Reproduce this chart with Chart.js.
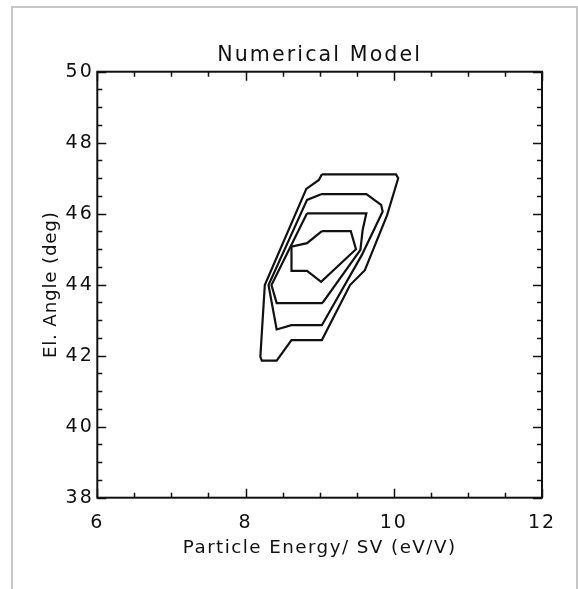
<!DOCTYPE html>
<html>
<head>
<meta charset="utf-8">
<title>Numerical Model</title>
<script src="https://cdn.jsdelivr.net/npm/chart.js@4.4.1/dist/chart.umd.min.js"></script>
<style>
  html, body { margin: 0; padding: 0; background: #fff; }
  #wrap { position: relative; width: 578px; height: 589px; overflow: hidden; }
  #frame { position: absolute; left: 11px; top: 6px; width: 563px; height: 620px;
           border: 2px solid #c6c6c6; border-bottom: none; }
  #c { position: absolute; left: 0; top: 0; }
</style>
</head>
<body>
<div id="wrap">
  <div id="frame"></div>
  <canvas id="c" width="578" height="589"></canvas>
</div>
<script>
// Axis ranges and labelled ticks
const energyTicks = [6, 8, 10, 12];
const angleTicks = [38, 40, 42, 44, 46, 48, 50];
const minorStep = 0.5;

// Contour levels, outermost first (energy in eV/V, elevation angle in deg)
const level1Energy = [9.03, 10.03, 10.06, 9.91, 9.61, 9.41, 9.03, 8.62, 8.42, 8.22, 8.20, 8.26, 8.82, 8.99, 9.03];
const level1Angle  = [47.11, 47.11, 47.00, 45.96, 44.41, 43.99, 42.44, 42.44, 41.86, 41.86, 41.97, 43.99, 46.70, 46.95, 47.11];

const level2Energy = [9.02, 9.63, 9.83, 9.85, 9.57, 9.03, 8.62, 8.42, 8.31, 8.83, 9.02];
const level2Angle  = [46.55, 46.55, 46.25, 46.06, 44.84, 42.86, 42.86, 42.74, 43.99, 46.39, 46.55];

const level3Energy = [8.83, 9.63, 9.58, 9.55, 9.05, 9.03, 8.42, 8.35, 8.83];
const level3Angle  = [46.01, 46.01, 45.54, 44.98, 43.52, 43.48, 43.48, 43.99, 46.01];

const level4Energy = [9.03, 9.42, 9.49, 9.02, 8.83, 8.62, 8.62, 8.83, 9.03];
const level4Angle  = [45.51, 45.51, 45.00, 44.08, 44.39, 44.39, 45.07, 45.17, 45.51];

const levels = [
  [level1Energy, level1Angle],
  [level2Energy, level2Angle],
  [level3Energy, level3Angle],
  [level4Energy, level4Angle]
];

const FONT = '"DejaVu Sans", "Liberation Sans", sans-serif';
const INK = '#111';

function toPoints(xs, ys) {
  return xs.map((v, i) => ({ x: v, y: ys[i] }));
}

// Give a text-drawing method its own glyph spacing
function withSpacing(obj, method, px) {
  if (!obj || obj['_spaced_' + method]) return;
  const orig = obj[method];
  obj[method] = function (...args) {
    const ctx = this.ctx;
    ctx.letterSpacing = px + 'px';
    const r = orig.apply(this, args);
    ctx.letterSpacing = '0px';
    return r;
  };
  obj['_spaced_' + method] = true;
}

const spacing = {
  id: 'spacing',
  afterLayout(chart) {
    withSpacing(chart.titleBlock, 'draw', 2.1);
    withSpacing(chart.scales.x, 'drawLabels', 2);
    withSpacing(chart.scales.y, 'drawLabels', 2);
    withSpacing(chart.scales.x, 'drawTitle', 1.45);
    withSpacing(chart.scales.y, 'drawTitle', 0.8);
  }
};

// Box frame with inward major/minor ticks on all four sides
const boxTicks = {
  id: 'boxTicks',
  afterDatasetsDraw(chart) {
    const { ctx, chartArea: a, scales: { x, y } } = chart;
    const majorLen = 9, minorLen = 5;
    const isMajor = (scale, v) => scale.ticks.some(t => Math.abs(t.value - v) < 1e-6);
    ctx.save();
    ctx.strokeStyle = INK;
    ctx.lineWidth = 1.5;
    ctx.beginPath();
    for (let v = x.min; v <= x.max + 1e-9; v += minorStep) {
      const len = isMajor(x, v) ? majorLen : minorLen;
      const px = Math.round(x.getPixelForValue(v)) + 0.5;
      ctx.moveTo(px, a.bottom); ctx.lineTo(px, a.bottom - len);
      ctx.moveTo(px, a.top); ctx.lineTo(px, a.top + len);
    }
    for (let v = y.min; v <= y.max + 1e-9; v += minorStep) {
      const len = isMajor(y, v) ? majorLen : minorLen;
      const py = Math.round(y.getPixelForValue(v)) + 0.5;
      ctx.moveTo(a.left, py); ctx.lineTo(a.left + len, py);
      ctx.moveTo(a.right, py); ctx.lineTo(a.right - len, py);
    }
    ctx.stroke();
    ctx.lineWidth = 2;
    ctx.strokeRect(a.left, a.top, a.right - a.left, a.bottom - a.top);
    ctx.restore();
  }
};

new Chart(document.getElementById('c'), {
  type: 'scatter',
  data: {
    datasets: levels.map(([xs, ys], i) => ({
      label: 'level ' + (i + 1),
      data: toPoints(xs, ys),
      showLine: true,
      borderColor: INK,
      borderWidth: 2.2,
      pointRadius: 0,
      fill: false,
      tension: 0
    }))
  },
  options: {
    responsive: false,
    animation: false,
    devicePixelRatio: 1,
    layout: { padding: { left: 0, right: 36, top: 0, bottom: 0 } },
    plugins: {
      legend: { display: false },
      tooltip: { enabled: false },
      title: {
        display: true,
        fullSize: false,
        text: 'Numerical Model',
        color: INK,
        font: { family: FONT, size: 20.6, weight: 'normal', lineHeight: 1.2 },
        padding: { top: 43, bottom: 4 }
      }
    },
    scales: {
      x: {
        type: 'linear',
        min: energyTicks[0],
        max: energyTicks[energyTicks.length - 1],
        afterBuildTicks(scale) { scale.ticks = energyTicks.map(v => ({ value: v })); },
        afterFit(scale) { scale.height = 91.3; },
        grid: { display: false, drawTicks: false },
        border: { display: false },
        ticks: {
          color: INK, padding: 14, maxRotation: 0,
          font: { family: FONT, size: 19, lineHeight: 1.2 }
        },
        title: {
          display: true,
          text: 'Particle Energy/ SV (eV/V)',
          color: INK,
          font: { family: FONT, size: 18.3, lineHeight: 1.2 },
          padding: { top: 0, bottom: 29.4 }
        }
      },
      y: {
        type: 'linear',
        min: angleTicks[0],
        max: angleTicks[angleTicks.length - 1],
        afterBuildTicks(scale) { scale.ticks = angleTicks.map(v => ({ value: v })); },
        afterFit(scale) { scale.width = 97.3; },
        grid: { display: false, drawTicks: false },
        border: { display: false },
        ticks: {
          color: INK, padding: 3.5,
          font: { family: FONT, size: 19, lineHeight: 1.2 }
        },
        title: {
          display: true,
          text: 'El. Angle (deg)',
          color: INK,
          font: { family: FONT, size: 18.3, lineHeight: 1.2 },
          padding: { top: 40.5, bottom: 0 }
        }
      }
    }
  },
  plugins: [spacing, boxTicks]
});
</script>
</body>
</html>
